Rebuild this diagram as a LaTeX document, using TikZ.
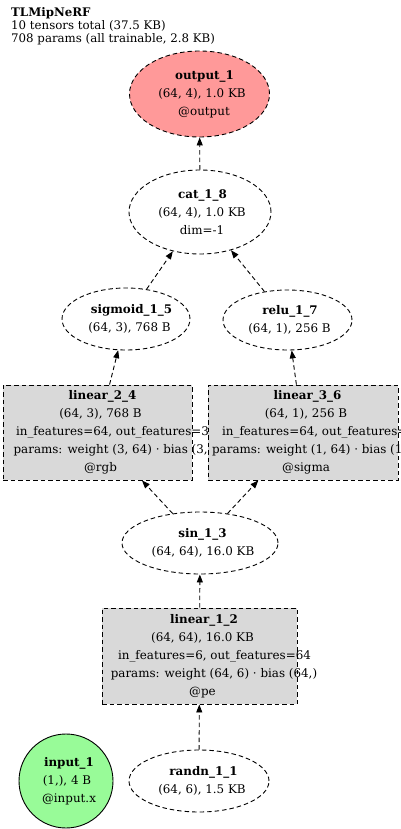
\documentclass[tikz,border=0pt]{standalone}
\usepackage{fontspec}
\setmainfont{DejaVu Serif}
\usetikzlibrary{shapes.geometric,arrows.meta}
\definecolor{outfill}{HTML}{FF9999}
\definecolor{infill}{HTML}{98FB98}
\definecolor{boxfill}{HTML}{D9D9D9}
\newcommand\lineat[2]{\makebox[0pt]{\hspace*{#1pt}#2}}
\begin{document}
\begin{tikzpicture}[x=1pt,y=-1pt,
  every node/.style={font=\fontsize{11.9}{18}\selectfont, align=center, inner sep=0pt},
  tensor/.style={ellipse, draw, line width=0.9pt, dash pattern=on 4.5pt off 3pt},
  opbox/.style={rectangle, draw, line width=0.9pt, dash pattern=on 4.5pt off 3pt, fill=boxfill},
  conn/.style={draw, line width=0.9pt, dash pattern=on 4.5pt off 3pt, -{Triangle[length=8pt,width=6pt]}}
]
\useasboundingbox (0,0) rectangle (400,829);

\node[anchor=north west, align=left, font=\fontsize{11.8}{13}\selectfont] (title) at (11,7.5)
  {\textbf{TLMipNeRF}\\10 tensors total (37.5 KB)\\708 params (all trainable, 2.8 KB)};

\node[tensor, fill=outfill, minimum width=140pt, minimum height=86pt] (out) at (199.5,94)
  {\lineat{10}{\textbf{output\_1}}\\\lineat{5}{(64, 4), 1.0 KB}\\\lineat{9}{@output}};
\node[tensor, minimum width=142pt, minimum height=84pt] (cat) at (200,212)
  {\lineat{5}{\textbf{cat\_1\_8}}\\\lineat{4}{(64, 4), 1.0 KB}\\\lineat{4}{dim=-1}};
\node[tensor, minimum width=128pt, minimum height=62pt] (sig) at (126,319)
  {\lineat{11}{\textbf{sigmoid\_1\_5}}\\\lineat{7}{(64, 3), 768 B}};
\node[tensor, minimum width=129pt, minimum height=60pt] (relu) at (287.5,320)
  {\lineat{5}{\textbf{relu\_1\_7}}\\\lineat{4}{(64, 1), 256 B}};

\node[opbox, minimum width=189pt, minimum height=95pt] (l24) at (97.5,432.5)
  {\lineat{10}{\textbf{linear\_2\_4}}\\\lineat{6}{(64, 3), 768 B}\\\lineat{30}{in\_features=64, out\_features=3}\\\lineat{31}{params: weight (3, 64) · bias (3,)}\\\lineat{6}{@rgb}};
\node[opbox, minimum width=190pt, minimum height=95pt] (l36) at (303,432.5)
  {\lineat{9}{\textbf{linear\_3\_6}}\\\lineat{6}{(64, 1), 256 B}\\\lineat{31}{in\_features=64, out\_features=1}\\\lineat{17}{params: weight (1, 64) · bias (1,)}\\\lineat{6}{@sigma}};

\node[tensor, minimum width=156pt, minimum height=62pt] (sin) at (200,543)
  {\lineat{5}{\textbf{sin\_1\_3}}\\\lineat{6}{(64, 64), 16.0 KB}};

\node[opbox, minimum width=195pt, minimum height=96pt] (l12) at (199.5,656)
  {\lineat{9}{\textbf{linear\_1\_2}}\\\lineat{6}{(64, 64), 16.0 KB}\\\lineat{30}{in\_features=6, out\_features=64}\\\lineat{29}{params: weight (64, 6) · bias (64,)}\\\lineat{6}{@pe}};

\node[tensor, minimum width=140pt, minimum height=62pt] (randn) at (199,781)
  {\lineat{9}{\textbf{randn\_1\_1}}\\\lineat{6}{(64, 6), 1.5 KB}};
\node[ellipse, draw, line width=0.9pt, fill=infill, minimum width=94pt, minimum height=94pt] (inp) at (66,781)
  {\lineat{6}{\textbf{input\_1}}\\\lineat{2}{(1,), 4 B}\\\lineat{6}{@input.x}};

\draw[conn] (cat) -- (out);
\draw[conn] (sig) -- (cat);
\draw[conn] (relu) -- (cat);
\draw[conn] (l24) -- (sig);
\draw[conn] (l36) -- (relu);
\draw[conn] (sin) -- (l24);
\draw[conn] (sin) -- (l36);
\draw[conn] (l12) -- (sin);
\draw[conn] (randn) -- (l12);
\end{tikzpicture}
\end{document}
